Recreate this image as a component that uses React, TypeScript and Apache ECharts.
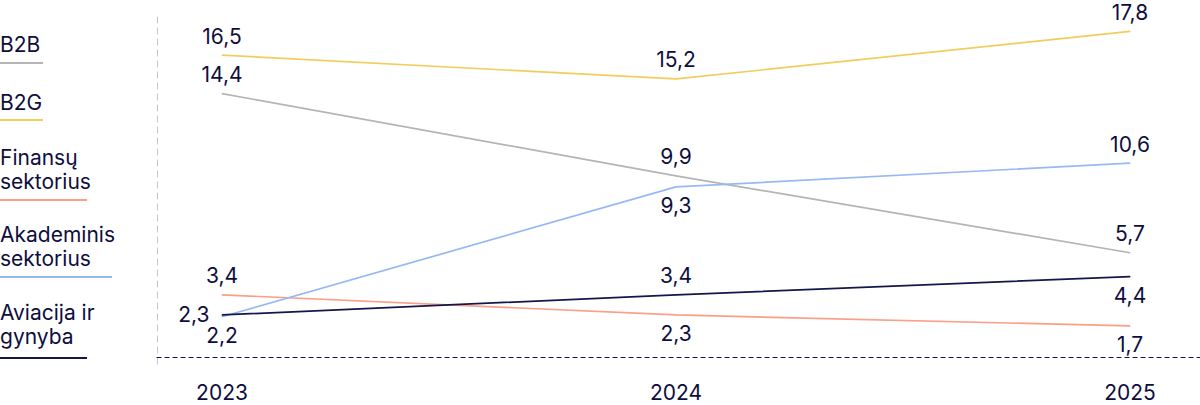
import React, { useEffect, useRef } from "react";
import * as echarts from "echarts";

const years = ["2023", "2024", "2025"];
const seriesNames = ["B2B", "B2G", "Finansų\nsektorius", "Akademinis\nsektorius", "Aviacija ir\ngynyba"];
const b2b = [14.4, 9.9, 5.7];
const b2g = [16.5, 15.2, 17.8];
const finansu = [3.4, 2.3, 1.7];
const akademinis = [2.2, 9.3, 10.6];
const aviacija = [2.3, 3.4, 4.4];
const seriesValues = [b2b, b2g, finansu, akademinis, aviacija];
const colors = ["#b4b4b4", "#f2cd5c", "#fb9f86", "#97b9f3", "#15164a"];
const labelPositions = [
  ["top", "top", "top"],
  ["top", "top", "top"],
  ["top", "bottom", "bottom"],
  ["bottom", "bottom", "top"],
  ["left", "top", "bottom"],
];

const TEXT = "#0e0e3e";
const FONT = "Inter";
const FS = 21;

// legend layout (positions only)
const legendTextY = [44.5, 102.5, 169, 246.5, 324];
const legendLineY = [63, 120, 200, 277, 358];
const legendLineW = [43, 43, 87, 112, 87];

const fmt = (v: number) => v.toFixed(1).replace(".", ",");

export default function App() {
  const ref = useRef<HTMLDivElement>(null);
  useEffect(() => {
    if (!ref.current) return;
    const chart = echarts.init(ref.current, null, { renderer: "svg" });
    const graphic: any[] = [];
    seriesNames.forEach((name, i) => {
      graphic.push({
        type: "text",
        x: 0,
        y: legendTextY[i],
        style: {
          text: name,
          fill: TEXT,
          font: `400 ${FS}px ${FONT}`,
          lineHeight: 24,
          verticalAlign: "middle",
          align: "left",
        },
      });
      graphic.push({
        type: "line",
        shape: { x1: 0, y1: legendLineY[i], x2: legendLineW[i], y2: legendLineY[i] },
        style: { stroke: colors[i], lineWidth: 2 },
      });
    });
    chart.setOption({
      animation: false,
      textStyle: { fontFamily: FONT },
      grid: { left: 157, right: 0, top: 12, bottom: 41, containLabel: false },
      xAxis: {
        type: "value",
        min: -0.1432,
        max: 2.1542,
        splitLine: { show: false },
        axisLine: { show: true, lineStyle: { color: "#15164a", width: 1.2, type: [4, 4] } },
        axisTick: { show: false },
        axisLabel: {
          customValues: [0, 1, 2],
          formatter: (v: number) => years[Math.round(v)] ?? "",
          color: TEXT,
          fontSize: FS,
          fontFamily: FONT,
          margin: 18,
        },
      },
      yAxis: {
        type: "value",
        min: -0.38,
        max: 18.86,
        splitLine: { show: false },
        axisLabel: { show: false },
        axisTick: { show: false },
        axisLine: { show: true, onZero: false, lineStyle: { color: "#c4c4cc", width: 1, type: [6, 5] } },
      },
      graphic,
      series: seriesValues.map((vals, i) => ({
        type: "line",
        name: seriesNames[i],
        symbol: "circle",
        symbolSize: 1,
        showSymbol: true,
        lineStyle: { color: colors[i], width: 1.7 },
        itemStyle: { color: colors[i] },
        data: vals.map((v, j) => ({
          value: [j, v],
          label: {
            show: true,
            position: labelPositions[i][j],
            distance: labelPositions[i][j] === "left" ? 12 : 8,
            formatter: () => fmt(v),
            color: TEXT,
            fontSize: FS,
            fontFamily: FONT,
          },
        })),
      })),
    });
    return () => chart.dispose();
  }, []);
  return (
    <div
      ref={ref}
      style={{ position: "absolute", left: 0, top: 0, width: 1200, height: 405, background: "#fff" }}
    />
  );
}
